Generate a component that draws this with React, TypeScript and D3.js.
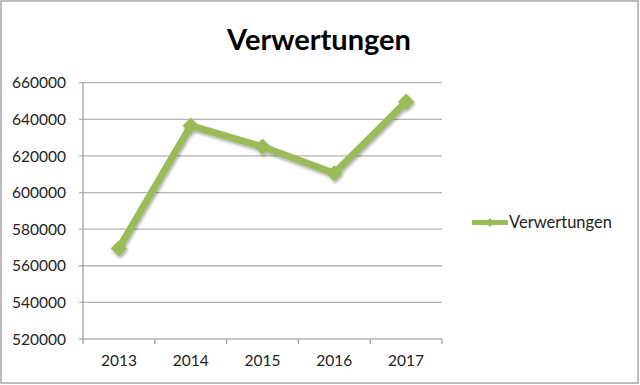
import React, { useRef, useEffect } from "react";
import * as d3 from "d3";

const years = ["2013", "2014", "2015", "2016", "2017"];
const verwertungen = [569500, 636500, 625000, 610500, 649600];
const yTicks = [520000, 540000, 560000, 580000, 600000, 620000, 640000, 660000];
const seriesName = "Verwertungen";
const title = "Verwertungen";

const App = () => {
  const svgRef = useRef<SVGSVGElement>(null);

  useEffect(() => {
    const svg = d3.select(svgRef.current);
    svg.selectAll("*").remove();

    const width = 640;
    const height = 385;
    const plot = { left: 83, right: 442, top: 82.7, bottom: 339 };
    const green = "#9bbb59";
    const font = "Lato, 'Open Sans', sans-serif";

    svg.attr("width", width).attr("height", height);

    const defs = svg.append("defs");
    const shadow = defs.append("filter").attr("id", "shadow")
      .attr("x", "-50%").attr("y", "-50%").attr("width", "200%").attr("height", "200%");
    shadow.append("feDropShadow").attr("dx", 1).attr("dy", 2).attr("stdDeviation", 1.5)
      .attr("flood-color", "#000").attr("flood-opacity", 0.35);

    svg.append("rect").attr("x", 0).attr("y", 0).attr("width", width).attr("height", height).attr("fill", "#fff");
    svg.append("rect").attr("x", 1).attr("y", 1).attr("width", 637).attr("height", 382)
      .attr("fill", "none").attr("stroke", "#a6a6a6").attr("stroke-width", 1.5);

    const x = d3.scaleBand().domain(years).range([plot.left, plot.right]);
    const y = d3.scaleLinear().domain([520000, 660000]).range([plot.bottom, plot.top]);

    // gridlines
    svg.append("g").selectAll("line").data(yTicks).join("line")
      .attr("x1", plot.left - 4).attr("x2", plot.right)
      .attr("y1", d => y(d)).attr("y2", d => y(d))
      .attr("stroke", "#b3b3b3").attr("stroke-width", 1.3);

    // y axis
    svg.append("line").attr("x1", plot.left).attr("x2", plot.left)
      .attr("y1", plot.top).attr("y2", plot.bottom).attr("stroke", "#a0a0a0").attr("stroke-width", 1.3);
    svg.append("g").selectAll("text").data(yTicks).join("text")
      .attr("x", plot.left - 17).attr("y", d => y(d)).attr("dy", "0.36em")
      .attr("text-anchor", "end").attr("font-family", font).attr("font-size", 15.5).attr("fill", "#222")
      .text(d => String(d));

    // x axis ticks
    const xEdges = [...years.map(d => x(d) as number), plot.right];
    svg.append("g").selectAll("line").data(xEdges).join("line")
      .attr("x1", d => d).attr("x2", d => d).attr("y1", plot.bottom).attr("y2", plot.bottom + 5)
      .attr("stroke", "#a0a0a0").attr("stroke-width", 1.3);
    svg.append("g").selectAll("text").data(years).join("text")
      .attr("x", d => (x(d) as number) + x.bandwidth() / 2).attr("y", 366)
      .attr("text-anchor", "middle").attr("font-family", font).attr("font-size", 15.5).attr("fill", "#222")
      .text(d => d);

    const pts = years.map((yr, i) => [(x(yr) as number) + x.bandwidth() / 2, y(verwertungen[i])] as [number, number]);

    const g = svg.append("g").attr("filter", "url(#shadow)");
    g.append("path").attr("d", d3.line()(pts))
      .attr("fill", "none").attr("stroke", green).attr("stroke-width", 7).attr("stroke-linejoin", "round");
    const diamond = d3.symbol().type(d3.symbolDiamond2).size(170);
    g.selectAll("path.m").data(pts).join("path").attr("class", "m")
      .attr("transform", d => `translate(${d[0]},${d[1]})`)
      .attr("d", diamond()).attr("fill", green);

    // legend
    const lg = svg.append("g");
    lg.append("line").attr("x1", 472).attr("x2", 508).attr("y1", 222.5).attr("y2", 222.5)
      .attr("stroke", green).attr("stroke-width", 5);
    lg.append("path").attr("transform", "translate(490,222.5)")
      .attr("d", d3.symbol().type(d3.symbolDiamond2).size(50)()).attr("fill", green);
    lg.append("text").attr("x", 509).attr("y", 222.5).attr("dy", "0.36em")
      .attr("font-family", font).attr("font-size", 16.5).attr("fill", "#222").text(seriesName);

    // title
    svg.append("text").attr("x", 319).attr("y", 50).attr("text-anchor", "middle")
      .attr("font-family", font).attr("font-weight", "bold").attr("font-size", 29).attr("fill", "#000")
      .text(title);
  }, []);

  return <svg ref={svgRef} style={{ position: "absolute", left: 0, top: 0, display: "block" }}></svg>;
};

export default App;
